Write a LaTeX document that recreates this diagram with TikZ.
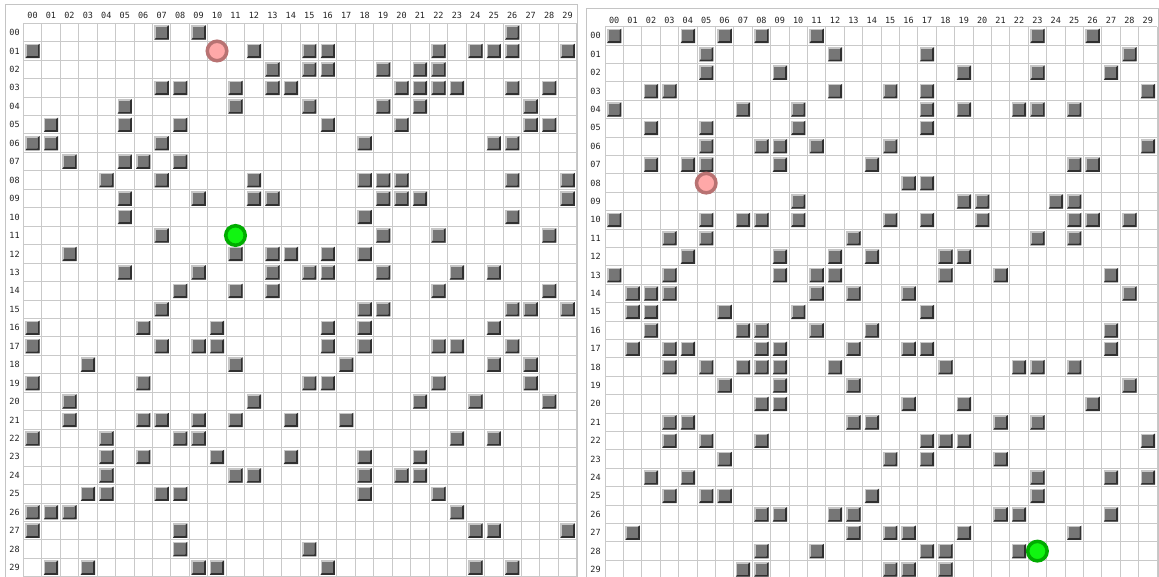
\documentclass[tikz,border=0pt]{standalone}
\usepackage{fontspec}
\newfontfamily\monofont{DejaVu Sans Mono}
\definecolor{gridline}{HTML}{C9C9C9}
\definecolor{panelframe}{HTML}{C4C4C4}
\definecolor{obsfill}{HTML}{767676}
\definecolor{obslight}{HTML}{C6C6C6}
\definecolor{obsdark}{HTML}{303030}
\definecolor{startfill}{HTML}{FFA8A8}
\definecolor{startline}{HTML}{B87272}
\definecolor{goalfill}{HTML}{11F511}
\definecolor{goalline}{HTML}{00AC00}
\definecolor{labeltext}{HTML}{222222}
\tikzset{
  gridln/.style={draw=gridline,line width=1pt},
  framebox/.style={draw=panelframe,line width=0.9pt},
  lbl/.style={font=\monofont\fontsize{8.5}{10}\selectfont,text=labeltext,inner sep=0pt},
  startdot/.style={circle,draw=startline,fill=startfill,line width=3.5pt,minimum size=19.5pt,inner sep=0pt},
  goaldot/.style={circle,draw=goalline,fill=goalfill,line width=3.5pt,minimum size=19.5pt,inner sep=0pt},
}
\newcommand\obst[2]{%
  \fill[obslight] ({#1-7.2},{#2-7.2}) rectangle ({#1+7.2},{#2+7.2});
  \fill[obsdark] ({#1+7.2},{#2-7.2}) -- ({#1+7.2},{#2+7.2}) -- ({#1-7.2},{#2+7.2})
     -- ({#1-5.7},{#2+5.2}) -- ({#1+5.2},{#2+5.2}) -- ({#1+5.2},{#2-5.7}) -- cycle;
  \fill[obsfill] ({#1-5.7},{#2-5.7}) rectangle ({#1+5.2},{#2+5.2});
}
% #1 ox  #2 oy  #3 cell  #4 col-label dy  #5 row-label dx  #6 prefix  #7 obstacles
\newcommand\gridpanel[7]{%
  \foreach \i in {0,...,30} {
    \draw[gridln] ({#1+\i*#3},{#2}) -- ({#1+\i*#3},{#2+30*#3});
    \draw[gridln] ({#1},{#2+\i*#3}) -- ({#1+30*#3},{#2+\i*#3});
  }
  \foreach \i in {0,...,29} {
    \node[lbl] (#6c\i) at ({#1+(\i+0.5)*#3},{#2+#4}) {\ifnum\i<10 0\fi\i};
    \node[lbl] (#6r\i) at ({#1+#5},{#2+(\i+0.5)*#3}) {\ifnum\i<10 0\fi\i};
  }
  \foreach \r/\cs in {#7} {
    \foreach \c in \cs {
      \pgfmathsetmacro\cx{#1+(\c+0.5)*#3}
      \pgfmathsetmacro\cy{#2+(\r+0.5)*#3}
      \obst{\cx}{\cy}
    }
  }
}
\begin{document}
\begin{tikzpicture}[x=1pt,y=-1pt]
\useasboundingbox (0,0) rectangle (1159,577);
\clip (0,0) rectangle (1159,577);
\fill[white] (0,0) rectangle (1159,577);
% panel frames
\draw[framebox] (5.7,4) rectangle (577,600);
\draw[framebox] (586,8.3) rectangle (1158,600);
% left panel
\gridpanel{23.3}{23.3}{18.45}{-8.3}{-8.8}{L}{%
0/{7,9,26},
1/{0,12,15,16,22,24,25,26,29},
2/{13,15,16,19,21,22},
3/{7,8,11,13,14,20,21,22,23,26,28},
4/{5,11,15,19,21,27},
5/{1,5,8,16,20,27,28},
6/{0,1,7,18,25,26},
7/{2,5,6,8},
8/{4,7,12,18,19,20,26,29},
9/{5,9,12,13,19,20,21,29},
10/{5,18,26},
11/{7,19,22,28},
12/{2,11,13,14,16,18},
13/{5,9,13,15,16,19,23,25},
14/{8,11,13,22,28},
15/{7,18,19,26,27,29},
16/{0,6,10,16,18,25},
17/{0,7,9,10,16,18,22,23,26},
18/{3,11,17,25,27},
19/{0,6,15,16,22,27},
20/{2,12,21,24,28},
21/{2,6,7,9,11,14,17},
22/{0,4,8,9,23,25},
23/{4,6,10,14,18,21},
24/{4,11,12,18,20,21},
25/{3,4,7,8,18,22},
26/{0,1,2,23},
27/{0,8,24,25,29},
28/{8,15},
29/{1,3,9,10,16,24,26}}
% right panel
\gridpanel{605}{26.7}{18.4}{-6.7}{-9.5}{R}{%
0/{0,4,6,8,11,23,26},
1/{5,12,17,28},
2/{5,9,19,23,27},
3/{2,3,12,15,17,29},
4/{0,7,10,17,19,22,23,25},
5/{2,5,10,17},
6/{5,8,9,11,15,29},
7/{2,4,5,9,14,25,26},
8/{16,17},
9/{10,19,20,24,25},
10/{0,5,7,8,10,15,17,20,25,26,28},
11/{3,5,13,23,25},
12/{4,9,12,14,18,19},
13/{0,3,9,11,12,18,21,27},
14/{1,2,3,11,13,16,28},
15/{1,2,6,10,17},
16/{2,7,8,11,14,27},
17/{1,3,4,8,9,13,16,17,27},
18/{3,5,7,8,9,12,18,22,23,25},
19/{6,9,13,28},
20/{8,9,16,19,26},
21/{3,4,13,14,21,23},
22/{3,5,8,17,18,19,29},
23/{6,15,17,21},
24/{2,4,23,27,29},
25/{3,5,6,14,23},
26/{8,9,12,13,21,22,27},
27/{1,13,15,16,19,25},
28/{8,11,17,18,22},
29/{7,8,15,16,18}}
% start and goal markers
\node[startdot] (startL) at ({23.3+10.5*18.45},{23.3+1.5*18.45}) {};
\node[goaldot] (goalL) at ({23.3+11.5*18.45},{23.3+11.5*18.45}) {};
\node[startdot] (startR) at ({605+5.5*18.4},{26.7+8.5*18.4}) {};
\node[goaldot] (goalR) at ({605+23.5*18.4},{26.7+28.5*18.4}) {};
\end{tikzpicture}
\end{document}
